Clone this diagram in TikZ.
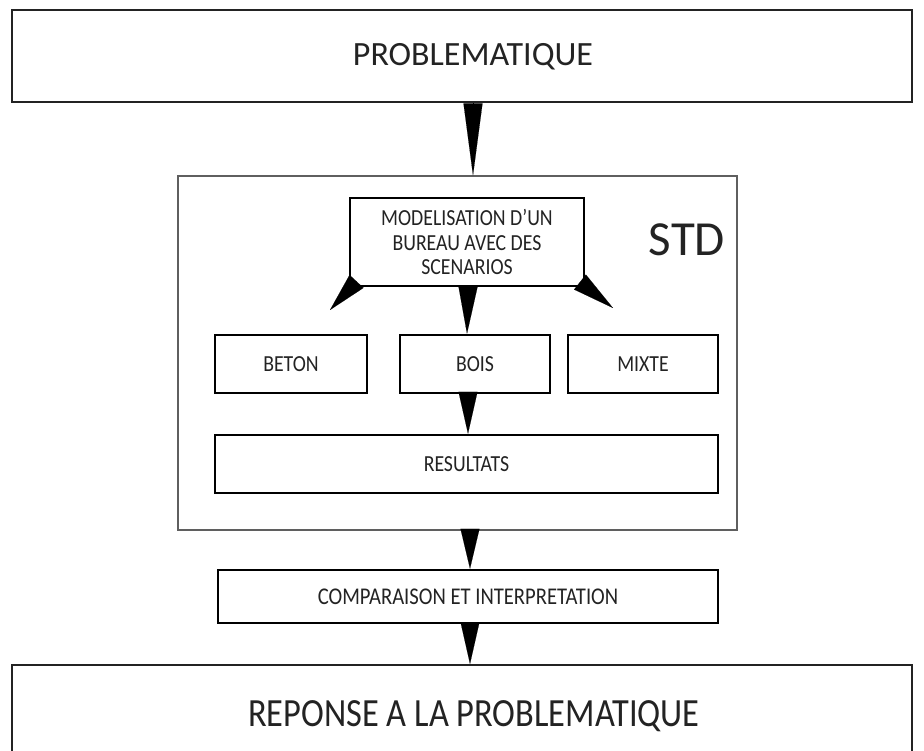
\documentclass[tikz,border=0pt]{standalone}
\usepackage{fontspec}
\setmainfont{Carlito}
\newfontfamily\narrowfont{Carlito}[FakeStretch=0.86]
\usetikzlibrary{arrows.meta, positioning, calc}
\definecolor{framegray}{RGB}{35, 35, 35}
\definecolor{stdgray}{RGB}{95, 95, 95}

\begin{document}
\begin{tikzpicture}[
    x=1pt, y=-1pt,
    bigbox/.style={draw=framegray, line width=2pt, minimum width=900pt, inner sep=0pt},
    bigtext/.style={font=\fontsize{34}{38}\selectfont, text=framegray},
    stepbox/.style={draw=black, line width=2.5pt, minimum height=58pt, inner sep=0pt, text=framegray, font=\narrowfont\fontsize{23}{26}\selectfont},
    flow/.style={-{Triangle[width=19pt, length=#1]}, line width=0.1pt}
]
    \useasboundingbox (0,0) rectangle (924,751);
    \clip (0,0) rectangle (924,751);

    % Top and bottom boxes
    \node[bigbox, minimum height=92pt] (prob) at (462,56) {};
    \node[bigtext] (probtxt) at (473,57) {PROBLEMATIQUE};
    \node[bigbox, minimum height=140pt] (rep) at (462,735) {};
    \node[bigtext, font=\narrowfont\fontsize{40}{44}\selectfont] (reptxt) at (474,716) {REPONSE A LA PROBLEMATIQUE};

    % STD frame
    \node[draw=stdgray, line width=1.2pt, minimum width=559pt, minimum height=354pt, inner sep=0pt] (std) at (457.5,353) {};
    \node[font=\fontsize{49}{52}\selectfont, text=framegray] (stdlbl) at (687,240) {STD};

    % Inner boxes
    \node[stepbox, minimum width=234pt, minimum height=88pt, align=center, font=\narrowfont\fontsize{23}{24.5}\selectfont] (model) at (467,242) {MODELISATION D’UN\\BUREAU AVEC DES\\SCENARIOS};
    \node[stepbox, minimum width=152pt] (beton) at (291,364) {BETON};
    \node[stepbox, minimum width=150pt] (bois) at (475,364) {BOIS};
    \node[stepbox, minimum width=150pt] (mixte) at (643,364) {MIXTE};
    \node[stepbox, minimum width=503pt] (res) at (466.5,464) {RESULTATS};
    \node[stepbox, minimum width=500pt, minimum height=53pt, font=\narrowfont\fontsize{24}{27}\selectfont] (comp) at (468,596.5) {COMPARAISON ET INTERPRETATION};

    % Arrows
    \coordinate (ltip) at (330,310);
    \coordinate (rtip) at (613,308);
    \draw[flow=72pt] ([xshift=11pt]prob.south) -- ([xshift=15.5pt]std.north);
    \draw[flow=39pt] ([shift={(7,-5)}]model.south west) -- (ltip);
    \draw[flow=42pt] ([shift={(-5,-5)}]model.south east) -- (rtip);
    \draw[flow=47pt] ([xshift=1pt]model.south) -- (bois.north -| model.south);
    \draw[flow=42pt] ([xshift=-7pt]bois.south) -- ([xshift=1.5pt]res.north);
    \draw[flow=40pt] ([xshift=12.5pt]std.south) -- ([xshift=2pt]comp.north);
    \draw[flow=42pt] ([xshift=2pt]comp.south) -- ([xshift=8pt]rep.north);
\end{tikzpicture}
\end{document}
